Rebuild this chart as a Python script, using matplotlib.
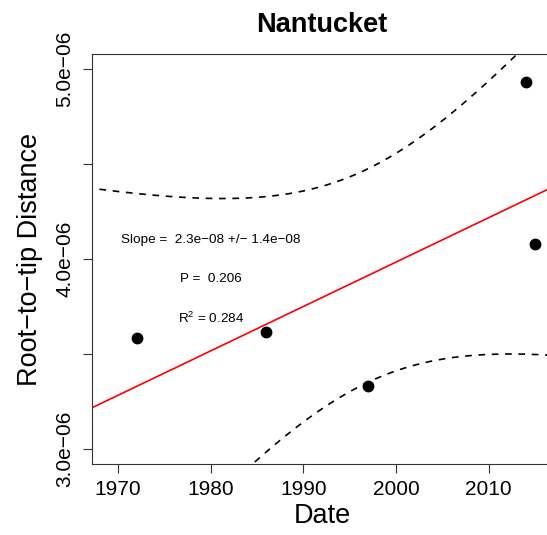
import numpy as np
import matplotlib
matplotlib.use("Agg")
import matplotlib.pyplot as plt

plt.rcParams['font.family'] = ['Liberation Sans', 'DejaVu Sans']
plt.rcParams['mathtext.fontset'] = 'custom'
plt.rcParams['mathtext.rm'] = 'Liberation Sans'
plt.rcParams['mathtext.it'] = 'Liberation Sans:italic'

TITLE = "Nantucket"
dates = np.array([1972, 1986, 1997, 2014, 2015])
rtt = np.array([3.586e-06, 3.617e-06, 3.333e-06, 4.933e-06, 4.080e-06])
x_ticks = [1970, 1980, 1990, 2000, 2010]
y_ticks = [3.0e-06, 3.5e-06, 4.0e-06, 4.5e-06, 5.0e-06]
y_labels = ["3.0e\u221206", "", "4.0e\u221206", "", "5.0e\u221206"]
stats_text = ["Slope =  2.3e\u221208 +/\u2212 1.4e\u221208", "P =  0.206", "R$^2$ = 0.284"]
T_90 = 2.353  # t quantile, 90% two sided, 3 df


def fit_line(x, y):
    slope, icpt = np.polyfit(x, y, 1)
    resid = y - (slope * x + icpt)
    s = np.sqrt(np.sum(resid ** 2) / (len(x) - 2))
    sxx = np.sum((x - x.mean()) ** 2)
    return slope, icpt, s, sxx


slope, icpt, s, sxx = fit_line(dates.astype(float), rtt)

# R style xlim/ylim with 4% padding
xlim = (1969, 2015)
ylim = (3.0e-06, 5.0e-06)
xpad = (xlim[1] - xlim[0]) * 0.04
ypad = (ylim[1] - ylim[0]) * 0.04

fig = plt.figure(figsize=(5.47, 5.35), dpi=100)
ax = fig.add_axes([0.1676, 0.1322, 0.8419, 0.7669])
ax.set_xlim(xlim[0] - xpad, xlim[1] + xpad)
ax.set_ylim(ylim[0] - ypad, ylim[1] + ypad)

# fitted line across the whole plot, confidence band on its own grid
xs = np.linspace(xlim[0] - xpad, xlim[1] + xpad, 300)
xb = np.linspace(1968, xlim[1] + xpad, 300)
half = T_90 * s * np.sqrt(1 / len(dates) + (xb - dates.mean()) ** 2 / sxx)

ax.plot(xs, slope * xs + icpt, color='red', linewidth=1.2)
ax.plot(xb, slope * xb + icpt + half, color='black', linestyle=(0, (4, 4)), linewidth=1.2)
ax.plot(xb, slope * xb + icpt - half, color='black', linestyle=(0, (4, 4)), linewidth=1.2)
ax.plot(dates, rtt, 'o', color='black', markersize=7.5)

for txt, yy in zip(stats_text, [4.1e-06, 3.895e-06, 3.69e-06]):
    ax.text(1980, yy, txt, fontsize=9.7, ha='center', va='center')

ax.set_xticks(x_ticks)
ax.set_xticklabels([str(v) for v in x_ticks])
ax.set_yticks(y_ticks)
ax.set_yticklabels(y_labels, rotation=90, va='center')
ax.tick_params(direction='out', length=6.3, width=0.8, labelsize=15, color='#333333')
ax.tick_params(axis='x', pad=5)
ax.tick_params(axis='y', pad=6)
for sp in ax.spines.values():
    sp.set_linewidth(0.8)
    sp.set_color('#333333')

ax.set_title(TITLE, fontsize=19.5, fontweight='bold', pad=16)
ax.set_xlabel("Date", fontsize=19.5, labelpad=3)
ax.set_ylabel("Root\u2212to\u2212tip Distance", fontsize=19.5, labelpad=9)

fig.savefig("out.png", dpi=100)
